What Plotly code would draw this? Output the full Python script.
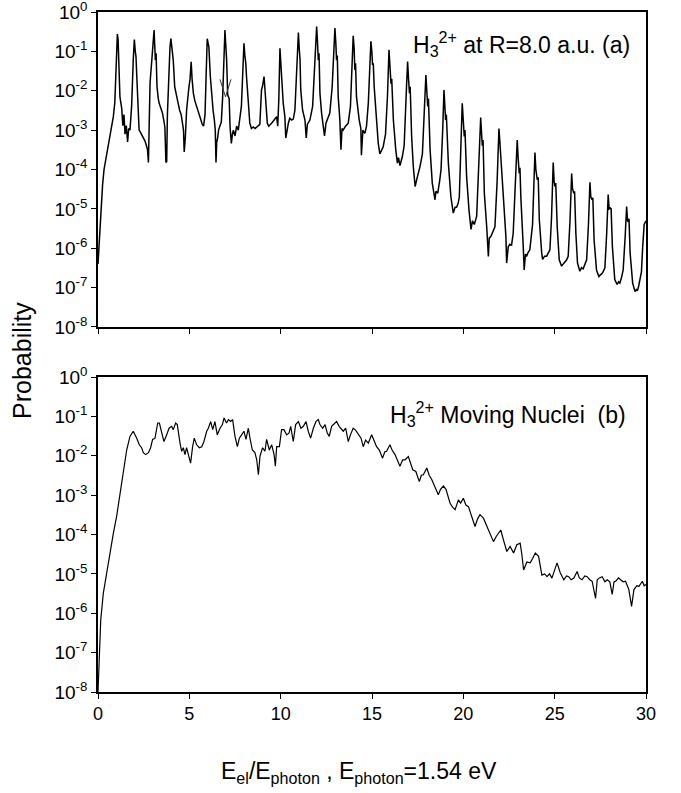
import math
import plotly.graph_objects as go
from plotly.subplots import make_subplots

# ---- panel (a): H3^2+ at R = 8.0 a.u. ----
x_a = [0.0, 0.05, 0.1, 0.16, 0.25, 0.33, 0.45, 0.6, 0.75, 0.84, 0.92, 0.99,
       1.06, 1.1, 1.15, 1.2, 1.25, 1.3, 1.36, 1.42, 1.48, 1.55, 1.62, 1.68, 1.75, 1.84, 1.93,
       1.99, 2.04, 2.08, 2.12, 2.16, 2.2, 2.25, 2.32, 2.4, 2.5, 2.58, 2.65, 2.71, 2.76, 2.8, 2.85, 2.95, 3.0,
       3.07, 3.1, 3.14, 3.18, 3.23, 3.3, 3.35, 3.45, 3.53, 3.6, 3.66, 3.72, 3.76, 3.8, 3.88, 3.94,
       3.99, 4.04, 4.12, 4.2, 4.29, 4.38, 4.47, 4.55, 4.6, 4.68, 4.72, 4.78, 4.85, 4.92, 4.98, 5.04,
       5.1, 5.15, 5.22, 5.3, 5.4, 5.5, 5.58, 5.65, 5.71, 5.78, 5.86, 5.92,
       5.98, 6.03, 6.07, 6.15, 6.22, 6.3, 6.37, 6.42, 6.46, 6.5, 6.55, 6.6, 6.68, 6.75, 6.82, 6.88,
       6.95, 6.99, 7.04, 7.1, 7.18, 7.23, 7.3, 7.36, 7.41, 7.5, 7.59, 7.68, 7.77, 7.85, 7.92,
       7.99, 8.04, 8.09, 8.13, 8.22, 8.31, 8.4, 8.5, 8.6, 8.7, 8.8, 8.86, 8.95, 9.0,
       9.09, 9.14, 9.2, 9.27, 9.35, 9.42, 9.5, 9.6, 9.7, 9.78, 9.84, 9.9,
       9.96, 10.01, 10.05, 10.14, 10.23, 10.28, 10.42, 10.5, 10.6, 10.69, 10.78, 10.87,
       10.97, 11.02, 11.06, 11.1, 11.2, 11.33, 11.4, 11.46, 11.6, 11.75, 11.88,
       11.97, 12.01, 12.06, 12.1, 12.15, 12.24, 12.33, 12.4, 12.48, 12.6, 12.69, 12.82,
       12.97, 13.02, 13.06, 13.1, 13.15, 13.24, 13.3, 13.36, 13.42, 13.55, 13.7, 13.82, 13.9,
       13.97, 14.02, 14.06, 14.1, 14.15, 14.3, 14.39, 14.42, 14.5, 14.61, 14.7, 14.8, 14.88,
       14.94, 14.99, 15.03, 15.07, 15.12, 15.25, 15.34, 15.43, 15.52, 15.61, 15.74, 15.85,
       15.93, 15.98, 16.04, 16.08, 16.17, 16.3, 16.39, 16.45, 16.53, 16.66, 16.76, 16.89,
       16.95, 17.0, 17.05, 17.09, 17.17, 17.26, 17.36, 17.45, 17.55, 17.63, 17.76, 17.87,
       17.95, 18.0, 18.05, 18.09, 18.18, 18.3, 18.45, 18.5, 18.6, 18.7, 18.78, 18.87,
       18.94, 18.99, 19.03, 19.07, 19.18, 19.32, 19.45, 19.55, 19.63, 19.72, 19.78, 19.86,
       19.94, 19.99, 20.05, 20.09, 20.18, 20.31, 20.42, 20.5, 20.6, 20.73, 20.85,
       20.95, 21.0, 21.04, 21.08, 21.15, 21.28, 21.37, 21.42, 21.51, 21.6, 21.73, 21.85,
       21.95, 22.0, 22.04, 22.09, 22.22, 22.33, 22.37, 22.46, 22.55, 22.64, 22.73, 22.85,
       22.95, 23.0, 23.06, 23.1, 23.15, 23.28, 23.33, 23.4, 23.46, 23.55, 23.64, 23.79,
       23.92, 23.97, 24.05, 24.1, 24.16, 24.29, 24.34, 24.45, 24.56, 24.65, 24.74, 24.83,
       24.92, 24.97, 25.01, 25.06, 25.14, 25.25, 25.38, 25.47, 25.56, 25.65, 25.74, 25.84,
       25.93, 25.98, 26.05, 26.09, 26.16, 26.25, 26.38, 26.47, 26.56, 26.66, 26.75, 26.85,
       26.93, 26.98, 27.05, 27.09, 27.16, 27.29, 27.42, 27.5, 27.56, 27.65, 27.75, 27.85,
       27.93, 27.98, 28.05, 28.09, 28.16, 28.29, 28.42, 28.5, 28.57, 28.66, 28.75, 28.86,
       28.94, 28.99, 29.03, 29.07, 29.13, 29.27, 29.4, 29.47, 29.53, 29.6, 29.67, 29.75, 29.82, 29.9, 30.0]

p_a = [4.0e-7, 1.0e-6, 3.2e-6, 1.0e-5, 4.0e-5, 1.0e-4, 2.0e-4, 5.0e-4, 1.3e-3, 2.2e-3, 5.0e-3, 4.0e-2,
       2.75e-1, 2.0e-1, 2.5e-2, 7.1e-3, 5.0e-3, 3.5e-3, 1.3e-3, 2.5e-3, 7.9e-4, 1.3e-3, 5.0e-4, 1.1e-3, 1.0e-3, 4.0e-3, 6.0e-2,
       2.0e-1, 1.0e-1, 7.4e-2, 2.5e-2, 8.7e-3, 2.5e-3, 1.0e-3, 8.9e-4, 7.6e-4, 6.3e-4, 5.2e-4, 4.0e-4, 3.2e-4, 1.5e-4, 2.5e-3, 1.6e-2, 6.3e-2, 1.26e-1,
       3.5e-1, 1.6e-1, 6.0e-2, 8.9e-2, 1.26e-2, 6.3e-3, 4.8e-3, 3.5e-3, 2.7e-3, 1.8e-3, 1.2e-3, 1.5e-4, 1.6e-4, 2.5e-3, 3.2e-2, 1.26e-1,
       2.1e-1, 1.1e-1, 6.0e-2, 1.26e-2, 7.1e-3, 5.0e-3, 3.2e-3, 2.5e-3, 1.8e-3, 1.0e-3, 2.8e-4, 6.3e-4, 3.2e-3, 7.9e-3, 1.26e-2, 2.0e-2,
       5.4e-2, 2.0e-2, 8.7e-3, 5.6e-3, 4.0e-3, 2.8e-3, 2.0e-3, 1.6e-3, 1.4e-3, 1.26e-3, 2.5e-3, 2.5e-2,
       2.1e-1, 1.6e-1, 1.3e-1, 2.3e-2, 7.9e-3, 3.2e-3, 1.8e-3, 1.0e-3, 1.5e-4, 5.0e-4, 6.3e-4, 1.0e-3, 1.3e-3, 1.6e-3, 6.3e-3, 4.0e-2,
       3.5e-1, 1.6e-1, 6.3e-2, 7.9e-3, 6.3e-3, 1.2e-3, 4.6e-4, 7.9e-4, 1.0e-3, 7.1e-4, 1.26e-3, 1.0e-3, 2.0e-3, 4.0e-3, 2.5e-2,
       1.6e-1, 7.9e-2, 5.0e-2, 2.3e-2, 4.8e-3, 1.5e-3, 1.1e-3, 1.2e-3, 1.1e-3, 1.2e-3, 1.26e-3, 1.4e-3, 1.05e-2, 1.26e-2,
       2.3e-2, 1.0e-2, 4.0e-3, 1.5e-3, 1.26e-3, 1.4e-3, 1.5e-3, 1.7e-3, 1.9e-3, 2.2e-3, 1.26e-3, 6.3e-3,
       1.2e-1, 5.0e-2, 2.3e-2, 4.8e-3, 2.2e-3, 6.3e-4, 1.5e-3, 2.0e-3, 1.8e-3, 1.9e-3, 3.2e-3, 3.4e-2,
       3.0e-1, 1.1e-1, 6.3e-2, 1.05e-2, 3.2e-3, 1.8e-3, 6.3e-4, 1.4e-3, 1.8e-3, 4.0e-3, 6.0e-2,
       4.3e-1, 2.0e-1, 6.0e-2, 8.9e-2, 8.7e-3, 2.7e-3, 1.4e-3, 7.1e-4, 1.5e-3, 2.0e-3, 2.7e-3, 1.26e-2,
       3.9e-1, 1.6e-1, 6.0e-2, 7.9e-2, 7.1e-3, 1.8e-3, 3.2e-4, 1.1e-3, 1.0e-3, 1.26e-3, 1.5e-3, 4.0e-3, 5.0e-2,
       2.5e-1, 1.26e-1, 3.4e-2, 5.0e-2, 7.1e-3, 1.8e-3, 1.1e-3, 2.3e-4, 1.0e-3, 8.3e-4, 1.26e-3, 5.0e-3, 5.0e-2,
       1.8e-1, 1.0e-1, 4.5e-2, 5.0e-2, 1.26e-2, 1.8e-3, 4.7e-4, 2.5e-4, 3.2e-4, 3.7e-4, 7.9e-4, 7.9e-3,
       1.1e-1, 5.0e-2, 1.5e-2, 2.0e-2, 1.8e-3, 3.2e-4, 1.45e-4, 2.0e-4, 1.26e-4, 2.1e-4, 4.0e-4, 1.26e-2,
       5.5e-2, 2.0e-2, 8.7e-3, 1.26e-2, 6.9e-4, 1.2e-4, 3.7e-5, 5.6e-5, 7.9e-5, 1.2e-4, 2.5e-4, 3.2e-3,
       2.5e-2, 1.0e-2, 4.0e-3, 6.3e-3, 3.2e-4, 4.5e-5, 1.7e-5, 2.8e-5, 2.5e-5, 5.0e-5, 1.0e-4, 1.0e-3,
       1.05e-2, 4.0e-3, 1.8e-3, 2.5e-3, 1.45e-4, 2.0e-5, 7.8e-6, 1.1e-5, 1.1e-5, 1.4e-5, 2.0e-5, 3.2e-4,
       4.8e-3, 2.0e-3, 6.9e-4, 1.0e-3, 6.6e-5, 9.3e-6, 3.0e-6, 5.0e-6, 4.0e-6, 6.5e-6, 1.26e-4,
       2.1e-3, 7.9e-4, 4.0e-4, 5.6e-4, 2.5e-5, 3.5e-6, 6.2e-7, 1.8e-6, 2.0e-6, 2.5e-6, 3.5e-6, 5.0e-5,
       1.1e-3, 5.0e-4, 2.5e-4, 1.45e-4, 1.7e-5, 2.0e-6, 4.2e-7, 1.1e-6, 1.26e-6, 1.2e-6, 2.4e-6, 3.2e-5,
       5.6e-4, 2.0e-4, 7.9e-5, 1.1e-4, 1.9e-5, 1.1e-6, 2.8e-7, 7.1e-7, 6.2e-7, 7.9e-7, 9.1e-7, 4.0e-6,
       2.7e-4, 1.0e-4, 5.4e-5, 6.3e-5, 5.2e-6, 7.6e-7, 5.2e-7, 6.3e-7, 6.3e-7, 7.6e-7, 9.1e-7, 6.3e-6,
       1.5e-4, 5.0e-5, 3.7e-5, 4.5e-5, 3.5e-6, 5.1e-7, 3.5e-7, 4.0e-7, 4.5e-7, 5.0e-7, 6.2e-7, 5.0e-6,
       7.9e-5, 3.2e-5, 2.5e-5, 2.8e-5, 2.4e-6, 4.2e-7, 2.6e-7, 3.2e-7, 3.0e-7, 4.0e-7, 5.1e-7, 4.0e-6,
       4.7e-5, 2.0e-5, 1.7e-5, 1.9e-5, 1.6e-6, 2.8e-7, 1.9e-7, 2.1e-7, 2.2e-7, 2.5e-7, 3.2e-7, 2.5e-6,
       2.3e-5, 1.0e-5, 1.05e-5, 1.0e-5, 1.1e-6, 1.6e-7, 1.2e-7, 1.4e-7, 1.3e-7, 1.8e-7, 2.8e-7, 2.0e-6,
       1.15e-5, 5.0e-6, 4.7e-6, 5.6e-6, 7.6e-7, 1.3e-7, 7.9e-8, 8.9e-8, 8.3e-8, 1.1e-7, 1.6e-7, 2.5e-7, 1.1e-6, 4.0e-6, 5.0e-6]

# ---- panel (b): H3^2+ moving nuclei ----
x_b = [0.0, 0.05, 0.15, 0.29, 0.47, 0.66, 0.84, 1.02, 1.2, 1.39, 1.57, 1.75, 1.93, 2.12, 2.26, 2.39, 2.48,
       2.61, 2.76, 2.88, 2.99, 3.12, 3.27, 3.36, 3.49, 3.61, 3.76, 3.89, 4.03, 4.12, 4.25, 4.34, 4.49,
       4.58, 4.67, 4.76, 4.85, 4.95, 5.07, 5.18, 5.27, 5.4, 5.55, 5.68, 5.8, 5.95, 6.04, 6.17, 6.28,
       6.4, 6.53, 6.68, 6.81, 6.9, 7.04, 7.14, 7.26, 7.37, 7.5, 7.63, 7.74, 7.86, 7.99, 8.1, 8.23,
       8.32, 8.45, 8.59, 8.69, 8.78, 8.87, 9.01, 9.14, 9.23, 9.38, 9.51, 9.64, 9.71, 9.78, 9.93, 10.05,
       10.18, 10.33, 10.46, 10.55, 10.69, 10.82, 10.97, 11.11, 11.24, 11.39, 11.51, 11.64, 11.79, 11.93,
       12.06, 12.15, 12.3, 12.43, 12.55, 12.66, 12.79, 12.97, 13.06, 13.2, 13.43, 13.56, 13.7, 13.83,
       13.97, 14.1, 14.25, 14.4, 14.52, 14.65, 14.8, 14.98, 15.1, 15.25, 15.4, 15.58, 15.7, 15.8, 15.98,
       16.1, 16.26, 16.4, 16.53, 16.68, 16.81, 16.99, 17.1, 17.23, 17.4, 17.59, 17.7, 17.81, 18.0,
       18.13, 18.27, 18.45, 18.63, 18.75, 18.91, 19.05, 19.27, 19.4, 19.55, 19.73, 19.85, 20.0, 20.14,
       20.28, 20.45, 20.64, 20.78, 20.91, 21.1, 21.25, 21.37, 21.5, 21.65, 21.8, 21.92, 22.05, 22.2,
       22.38, 22.56, 22.75, 22.93, 23.11, 23.2, 23.3, 23.48, 23.66, 23.8, 23.94, 24.12, 24.3, 24.45,
       24.58, 24.72, 24.85, 25.0, 25.13, 25.31, 25.5, 25.65, 25.77, 25.9, 26.05, 26.23, 26.35, 26.5,
       26.65, 26.78, 26.92, 27.05, 27.24, 27.33, 27.45, 27.6, 27.75, 27.88, 28.02, 28.15, 28.25, 28.34,
       28.5, 28.61, 28.75, 28.88, 29.06, 29.21, 29.34, 29.5, 29.61, 29.8, 29.9, 30.0]

p_b = [1.0e-8, 6.5e-8, 6.8e-7, 3.2e-6, 1.05e-5, 3.4e-5, 1.07e-4, 2.9e-4, 1.1e-3, 4.4e-3, 1.4e-2, 3.1e-2, 4.2e-2, 2.8e-2, 1.9e-2, 1.6e-2, 1.2e-2,
       1.07e-2, 1.2e-2, 1.6e-2, 2.6e-2, 2.8e-2, 6.8e-2, 6.8e-2, 4.2e-2, 2.3e-2, 3.4e-2, 5.0e-2, 5.6e-2, 4.6e-2, 6.8e-2, 6.2e-2, 2.1e-2,
       1.3e-2, 1.6e-2, 1.07e-2, 1.6e-2, 1.0e-2, 6.5e-3, 1.7e-2, 2.8e-2, 1.9e-2, 1.6e-2, 1.7e-2, 2.3e-2, 4.2e-2, 5.0e-2, 7.4e-2, 4.6e-2,
       7.4e-2, 3.4e-2, 5.0e-2, 6.2e-2, 9.1e-2, 6.8e-2, 8.3e-2, 7.4e-2, 8.3e-2, 3.1e-2, 1.7e-2, 2.8e-2, 3.4e-2, 4.2e-2, 2.6e-2, 5.0e-2,
       2.8e-2, 1.4e-2, 1.2e-2, 7.9e-3, 3.3e-3, 1.0e-2, 1.6e-2, 1.3e-2, 2.6e-2, 1.4e-2, 1.9e-2, 1.07e-2, 5.4e-3, 1.7e-2, 1.7e-2, 4.6e-2,
       4.6e-2, 3.4e-2, 3.8e-2, 5.6e-2, 2.3e-2, 6.2e-2, 7.4e-2, 5.0e-2, 5.6e-2, 7.4e-2, 4.2e-2, 2.8e-2, 5.0e-2, 7.4e-2,
       8.3e-2, 6.2e-2, 5.0e-2, 6.2e-2, 3.8e-2, 3.1e-2, 5.6e-2, 6.8e-2, 7.4e-2, 5.6e-2, 4.2e-2, 5.0e-2, 2.3e-2, 3.5e-2,
       5.0e-2, 4.5e-2, 3.4e-2, 2.8e-2, 1.7e-2, 2.5e-2, 2.1e-2, 3.4e-2, 2.5e-2, 1.7e-2, 1.4e-2, 8.7e-3, 1.26e-2, 1.3e-2, 1.9e-2,
       1.4e-2, 1.07e-2, 7.9e-3, 5.4e-3, 7.9e-3, 7.9e-3, 9.5e-3, 6.3e-3, 4.4e-3, 4.0e-3, 2.2e-3, 3.2e-3, 3.3e-3, 4.9e-3,
       3.2e-3, 2.5e-3, 1.6e-3, 1.02e-3, 1.4e-3, 1.7e-3, 1.4e-3, 6.3e-4, 5.0e-4, 4.3e-4, 7.6e-4, 6.3e-4, 8.3e-4, 5.6e-4,
       5.1e-4, 2.8e-4, 1.6e-4, 2.5e-4, 3.2e-4, 2.6e-4, 1.8e-4, 1.45e-4, 1.0e-4, 6.6e-5, 8.9e-5, 1.07e-4, 1.3e-4, 7.2e-5,
       3.7e-5, 5.0e-5, 3.4e-5, 5.5e-5, 6.0e-5, 3.2e-5, 1.26e-5, 2.0e-5, 1.9e-5, 2.5e-5, 3.4e-5, 2.8e-5, 9.3e-6, 1.0e-5,
       8.5e-6, 1.0e-5, 7.8e-6, 1.26e-5, 1.9e-5, 1.05e-5, 7.1e-6, 8.9e-6, 8.5e-6, 7.1e-6, 7.8e-6, 1.15e-5, 7.9e-6, 7.1e-6,
       8.9e-6, 8.5e-6, 7.1e-6, 6.5e-6, 2.4e-6, 7.1e-6, 7.9e-6, 8.5e-6, 6.3e-6, 7.1e-6, 6.3e-6, 3.0e-6, 6.3e-6, 6.5e-6,
       7.9e-6, 7.1e-6, 6.3e-6, 6.5e-6, 4.0e-6, 1.5e-6, 4.0e-6, 5.0e-6, 4.8e-6, 6.5e-6, 5.0e-6, 5.4e-6]

y_tick_vals = [1e0, 1e-1, 1e-2, 1e-3, 1e-4, 1e-5, 1e-6, 1e-7, 1e-8]
y_tick_text = ["10<sup>0</sup>", "10<sup>-1</sup>", "10<sup>-2</sup>", "10<sup>-3</sup>", "10<sup>-4</sup>",
               "10<sup>-5</sup>", "10<sup>-6</sup>", "10<sup>-7</sup>", "10<sup>-8</sup>"]
x_tick_vals = [0, 5, 10, 15, 20, 25, 30]

FONT = "Liberation Sans, Arial, Helvetica, sans-serif"

fig = make_subplots(rows=2, cols=1, vertical_spacing=0.0736, shared_xaxes=False)
fig.add_trace(go.Scatter(x=x_a, y=p_a, mode="lines", line=dict(color="black", width=1.5),
                         showlegend=False), row=1, col=1)
fig.add_trace(go.Scatter(x=x_b, y=p_b, mode="lines", line=dict(color="black", width=1.2),
                         showlegend=False), row=2, col=1)

yax = dict(type="log", range=[-8, 0], tickvals=y_tick_vals, ticktext=y_tick_text,
           showline=True, linecolor="black", linewidth=1.5, mirror=True,
           ticks="outside", ticklen=5, tickwidth=1.2, tickcolor="black", automargin=False,
           ticklabeloverflow="allow",
           showgrid=False, zeroline=False, tickfont=dict(family=FONT, size=19, color="black"))
xax = dict(range=[0, 30], tickvals=x_tick_vals, automargin=False, ticklabeloverflow="allow",
           showline=True, linecolor="black", linewidth=1.5, mirror=True,
           ticks="outside", ticklen=5, tickwidth=1.2, tickcolor="black",
           showgrid=False, zeroline=False, tickfont=dict(family=FONT, size=18, color="black"))

fig.update_layout(
    width=681, height=793,
    margin=dict(l=98, r=35, t=12, b=101),
    paper_bgcolor="white", plot_bgcolor="white",
    font=dict(family=FONT, color="black"),
    xaxis=dict(xax, domain=[0, 1], showticklabels=False),
    xaxis2=dict(xax, domain=[0, 1]),
    yaxis=dict(yax, domain=[0.5368, 1.0]),
    yaxis2=dict(yax, domain=[0.0, 0.4632]),
)

annotations = [
    dict(text="H<sub>3</sub><sup>2+</sup> at R=8.0 a.u. (a)", xref="paper", yref="paper",
         x=0.975, y=0.953, xanchor="right", yanchor="middle", showarrow=False,
         font=dict(family=FONT, size=23, color="black")),
    dict(text="H<sub>3</sub><sup>2+</sup> Moving Nuclei\u00a0\u00a0(b)", xref="paper", yref="paper",
         x=0.968, y=0.409, xanchor="right", yanchor="middle", showarrow=False,
         font=dict(family=FONT, size=23, color="black")),
    dict(text="Probability", xref="paper", yref="paper", x=-0.139, y=0.488,
         xanchor="center", yanchor="middle", textangle=-90, showarrow=False,
         font=dict(family=FONT, size=25, color="black")),
    dict(text="E<sub>el</sub>/E<sub>photon</sub> , E<sub>photon</sub>=1.54 eV", xref="paper", yref="paper",
         x=0.476, y=-0.119, xanchor="center", yanchor="middle", showarrow=False,
         font=dict(family=FONT, size=23, color="black")),
]
# small V-shaped marker pointing at the feature near peak 7 in panel (a)
for dx in (-6, 6):
    annotations.append(dict(x=6.98, y=math.log10(7.0e-3), xref="x", yref="y", text="",
                            showarrow=True, arrowhead=0, arrowwidth=1, arrowcolor="#333333",
                            ax=dx, ay=-19))
fig.update_layout(annotations=annotations)

# remove the default 8px page margin so the 681x793 figure fills the window exactly
fig.write_html("out.html", config={"displayModeBar": False},
               post_script="document.body.style.margin='0';")
